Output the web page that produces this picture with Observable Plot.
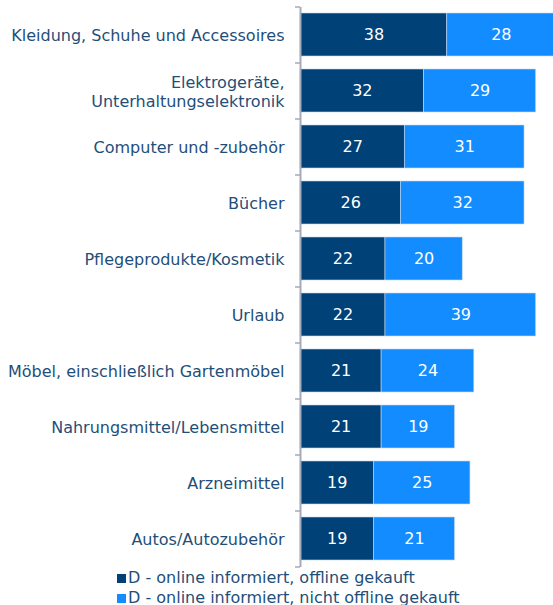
<!DOCTYPE html>
<html><head><meta charset="utf-8">
<script src="https://cdn.jsdelivr.net/npm/d3@7"></script>
<script src="https://cdn.jsdelivr.net/npm/@observablehq/plot@0.6"></script>
<style>
body{margin:0;background:#fff;font-family:"DejaVu Sans",Verdana,sans-serif;}
#legend{margin-left:117px;color:#1f4e79;font-size:16px;line-height:20px;}
#legend div{display:flex;align-items:center;white-space:nowrap;}
#legend span.sw{display:inline-block;width:9px;height:9px;margin-right:2px;}
</style></head><body>
<div id="chart"></div>
<div id="legend"></div>
<script>
const categories = [
  "Kleidung, Schuhe und Accessoires",
  "Elektrogeräte,\nUnterhaltungselektronik",
  "Computer und -zubehör",
  "Bücher",
  "Pflegeprodukte/Kosmetik",
  "Urlaub",
  "Möbel, einschließlich Gartenmöbel",
  "Nahrungsmittel/Lebensmittel",
  "Arzneimittel",
  "Autos/Autozubehör"
];
const seriesNames = ["D - online informiert, offline gekauft", "D - online informiert, nicht offline gekauft"];
const offlineBought = [38, 32, 27, 26, 22, 22, 21, 21, 19, 19];
const notOfflineBought = [28, 29, 31, 32, 20, 39, 24, 19, 25, 21];
const colors = ["#004178", "#138cff"];

const data = [];
categories.forEach((c, i) => {
  data.push({category: c, series: seriesNames[0], value: offlineBought[i]});
  data.push({category: c, series: seriesNames[1], value: notOfflineBought[i]});
});

const W = 553, H = 568, mTop = 7, mBottom = 1;
const step = (H - mTop - mBottom) / categories.length;

const chart = Plot.plot({
  width: W, height: H,
  marginLeft: 300, marginRight: 0, marginTop: mTop, marginBottom: mBottom,
  style: {fontFamily: "DejaVu Sans, Verdana, sans-serif", fontSize: "16px", overflow: "hidden"},
  x: {domain: [0, 65.5], axis: null},
  y: {domain: categories, paddingInner: 0.23, paddingOuter: 0.115, label: null},
  color: {domain: seriesNames, range: colors},
  marks: [
    Plot.barX(data, Plot.stackX({x: "value", y: "category", fill: "series", order: seriesNames, stroke: "#c4d8f0", strokeWidth: 0.6})),
    Plot.textX(data, Plot.stackX({x: "value", y: "category", z: "series", order: seriesNames, text: d => String(d.value), fill: "white", fontSize: 16})),
    Plot.axisY({tickSize: 0, tickPadding: 16, fill: "#1f4e79", fontSize: 16, lineHeight: 1.2, label: null}),
    Plot.ruleX([0], {stroke: "#a3abba", strokeWidth: 2}),
    Plot.ruleY(categories, {y: d => d, x1: 0, x2: 0, insetLeft: -5, dy: -step / 2, stroke: "#a3abba", strokeWidth: 1.5}),
    Plot.ruleY([categories[categories.length - 1]], {y: d => d, x1: 0, x2: 0, insetLeft: -5, dy: step / 2, stroke: "#a3abba", strokeWidth: 1.5})
  ]
});
document.getElementById("chart").appendChild(chart);

const legend = document.getElementById("legend");
seriesNames.forEach((s, i) => {
  const row = document.createElement("div");
  const sw = document.createElement("span");
  sw.className = "sw";
  sw.style.background = colors[i];
  row.appendChild(sw);
  row.appendChild(document.createTextNode(s));
  legend.appendChild(row);
});
</script>
</body></html>
